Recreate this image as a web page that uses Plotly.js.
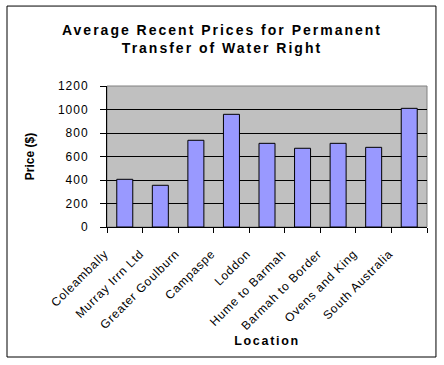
<!DOCTYPE html>
<html>
<head>
<meta charset="utf-8">
<script src="https://cdn.plot.ly/plotly-3.0.1.min.js"></script>
<style>
html,body{margin:0;padding:0;background:#fff;}
#chart{width:444px;height:365px;}
.gtitle{letter-spacing:2px;}
.xtitle{letter-spacing:1.7px;}
.xtick text{letter-spacing:0.8px;}
.ytick text{letter-spacing:1px;}
</style>
</head>
<body>
<div id="chart"></div>
<script>
var locations = ["Coleambally","Murray Irrn Ltd","Greater Goulburn","Campaspe","Loddon","Hume to Barmah","Barmah to Border","Ovens and King","South Australia"];
var prices = [406, 355, 738, 959, 712, 670, 712, 678, 1010];
var yTicks = [0, 200, 400, 600, 800, 1000, 1200];

var trace = {
  type: "bar",
  x: locations,
  y: prices,
  marker: {color: "#9999FF", line: {color: "#000000", width: 1}},
  hoverinfo: "x+y"
};

var layout = {
  width: 444, height: 365,
  margin: {l: 107, r: 17, t: 86, b: 138},
  paper_bgcolor: "#ffffff",
  plot_bgcolor: "#C0C0C0",
  bargap: 0.55,
  showlegend: false,
  font: {family: "Liberation Sans, Arial, sans-serif", color: "#000000", size: 12},
  title: {
    text: "Average Recent Prices for Permanent<br>Transfer of Water Right",
    font: {size: 14, weight: "bold", family: "Liberation Sans, Arial, sans-serif"},
    x: 0.5, xanchor: "center", y: 0.904, yanchor: "top"
  },
  xaxis: {
    type: "category",
    tickangle: -45,
    tickson: "boundaries",
    ticks: "outside", ticklen: 5, tickcolor: "#000",
    ticklabelshift: -20,
    ticklabelstandoff: 14,
    showline: true, linecolor: "#000", linewidth: 1,
    showgrid: false,
    tickfont: {size: 12},
    title: {text: "Location", font: {size: 12.5, weight: "bold"}, standoff: 4}
  },
  yaxis: {
    range: [0, 1200],
    tickvals: yTicks,
    ticktext: yTicks.map(String),
    ticks: "outside", ticklen: 6, tickcolor: "#000",
    ticklabelstandoff: 9,
    showline: true, linecolor: "#000", linewidth: 1,
    showgrid: true, gridcolor: "#000", gridwidth: 1,
    zeroline: false,
    tickfont: {size: 12},
    title: {text: "Price ($)", font: {size: 12, weight: "bold"}, standoff: 20}
  },
  shapes: [
    {type: "rect", xref: "paper", yref: "paper", x0: 0, x1: 1, y0: 0, y1: 1,
     line: {color: "#808080", width: 1}, fillcolor: "rgba(0,0,0,0)", layer: "below"},
    {type: "rect", xref: "paper", yref: "paper", x0: -0.3125, x1: 1.028, y0: -0.922, y1: 1.567,
     line: {color: "#000000", width: 1}, fillcolor: "rgba(0,0,0,0)"}
  ]
};

Plotly.newPlot("chart", [trace], layout, {displayModeBar: false, staticPlot: true});
</script>
</body>
</html>
